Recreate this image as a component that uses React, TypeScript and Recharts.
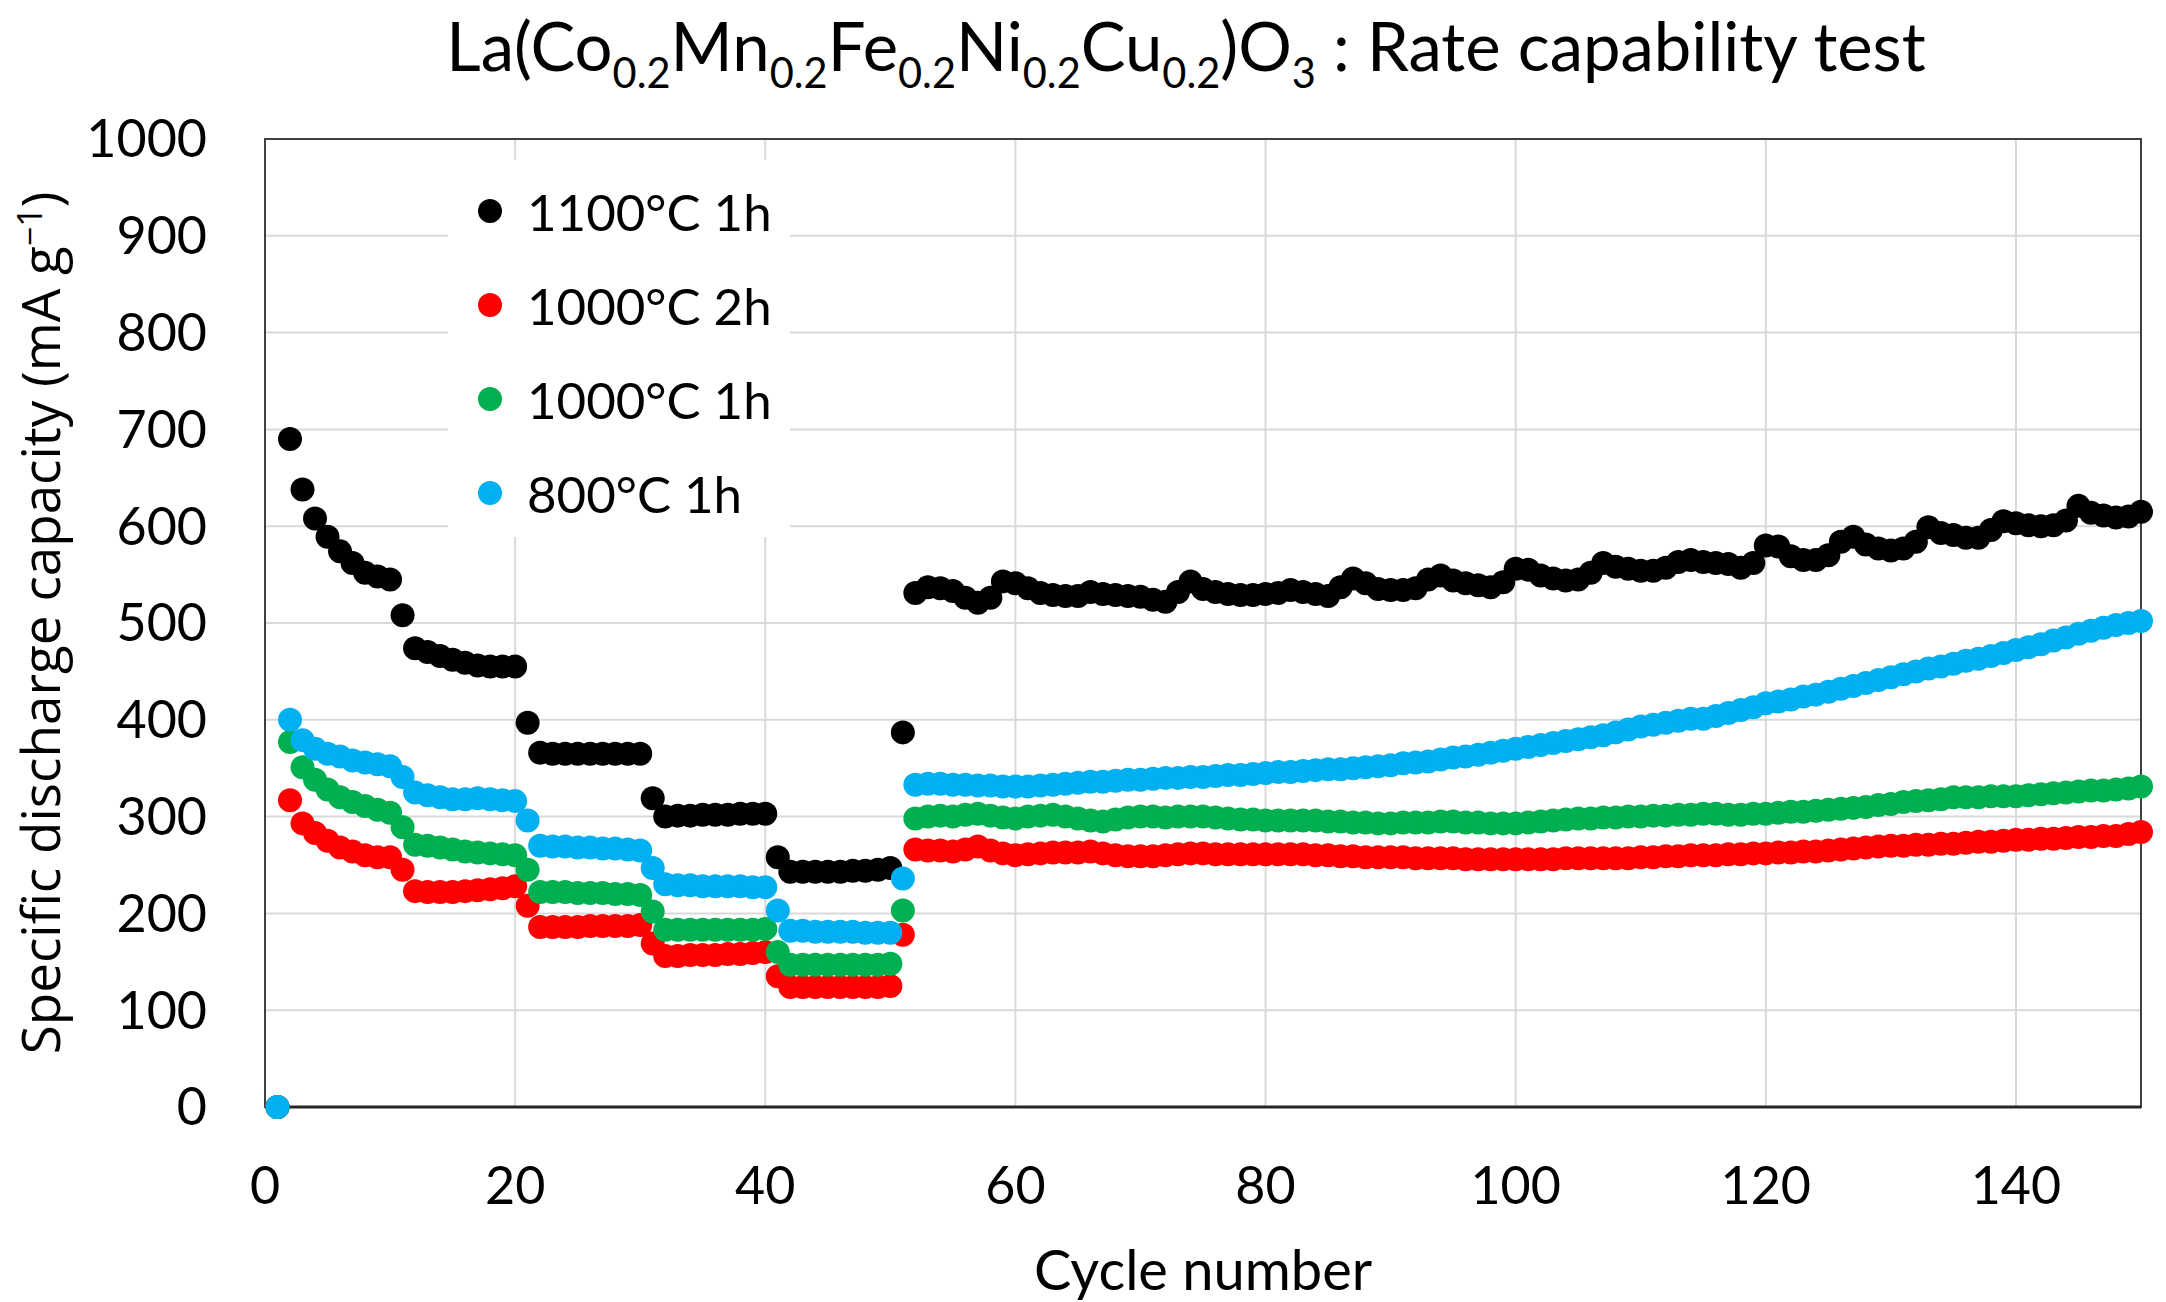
import React from 'react';
import { ScatterChart, Scatter, XAxis, YAxis, CartesianGrid, Legend, ReferenceArea } from 'recharts';

// Specific discharge capacity (mA g-1) per cycle, cycles 1..150
const cap1100C1h = [
  0, 690, 638, 608, 589, 574, 562, 552, 548, 545,
  508, 474, 470, 466, 462, 459, 456, 455, 455, 455,
  397, 366, 365, 365, 365, 365, 365, 365, 365, 365,
  319, 300, 301, 301, 302, 302, 302, 303, 303, 303,
  258, 243, 243, 243, 243, 243, 244, 244, 245, 247,
  387, 531, 537, 536, 533, 526, 521, 526, 543, 541,
  536, 531, 529, 528, 528, 532, 530, 529, 528, 527,
  524, 522, 532, 543, 535, 532, 530, 529, 529, 530,
  531, 534, 532, 530, 528, 537, 546, 541, 535, 534,
  534, 536, 545, 549, 544, 541, 539, 537, 542, 556,
  555, 549, 546, 544, 545, 552, 562, 558, 556, 554,
  554, 557, 563, 565, 563, 562, 561, 557, 562, 580,
  579, 569, 565, 565, 570, 584, 589, 581, 577, 575,
  577, 584, 599, 593, 591, 588, 588, 596, 605, 603,
  601, 600, 601, 606, 621, 614, 611, 609, 610, 615,
];

const cap1000C2h = [
  0, 317, 293, 283, 275, 268, 264, 260, 258, 258,
  245, 223, 222, 222, 222, 223, 224, 225, 226, 228,
  208, 186, 186, 186, 186, 187, 187, 187, 187, 188,
  169, 156, 156, 157, 157, 157, 158, 158, 159, 160,
  135, 124, 124, 124, 124, 124, 124, 124, 124, 125,
  178, 266, 265, 265, 264, 266, 269, 265, 262, 260,
  261, 262, 263, 263, 263, 264, 262, 260, 259, 259,
  259, 260, 261, 262, 262, 261, 261, 261, 261, 261,
  261, 261, 261, 260, 260, 259, 259, 258, 258, 258,
  258, 257, 257, 257, 257, 256, 256, 256, 256, 256,
  256, 256, 256, 257, 257, 257, 257, 257, 257, 258,
  258, 259, 259, 260, 260, 260, 261, 261, 262, 262,
  263, 263, 264, 264, 265, 266, 267, 268, 269, 270,
  270, 271, 271, 272, 272, 273, 274, 274, 275, 276,
  276, 277, 277, 278, 279, 279, 280, 280, 282, 284,
];

const cap1000C1h = [
  0, 377, 351, 338, 328, 320, 315, 311, 307, 304,
  289, 271, 270, 268, 266, 264, 263, 262, 261, 260,
  245, 222, 222, 222, 221, 221, 221, 220, 220, 219,
  202, 183, 183, 183, 183, 183, 183, 183, 183, 184,
  160, 147, 147, 147, 147, 147, 147, 147, 147, 148,
  203, 298, 300, 301, 300, 302, 303, 301, 299, 298,
  300, 301, 302, 300, 298, 296, 295, 297, 299, 300,
  300, 299, 300, 300, 300, 299, 298, 297, 297, 296,
  296, 296, 296, 296, 295, 295, 294, 294, 293, 293,
  294, 294, 294, 295, 295, 294, 294, 293, 293, 293,
  294, 295, 296, 297, 298, 298, 299, 299, 300, 300,
  301, 301, 302, 302, 303, 303, 302, 302, 303, 303,
  304, 305, 305, 306, 307, 308, 309, 310, 312, 313,
  315, 316, 317, 318, 320, 320, 320, 321, 321, 321,
  322, 323, 324, 325, 326, 327, 327, 328, 329, 331,
];

const cap800C1h = [
  0, 400, 379, 370, 365, 362, 358, 356, 354, 352,
  341, 325, 322, 320, 318, 318, 319, 318, 317, 316,
  296, 270, 269, 269, 268, 268, 267, 267, 266, 265,
  247, 230, 229, 229, 228, 228, 228, 228, 227, 227,
  203, 182, 182, 181, 181, 181, 181, 180, 180, 180,
  236, 333, 334, 334, 333, 333, 332, 332, 331, 331,
  331, 332, 333, 334, 335, 336, 336, 337, 338, 338,
  339, 340, 340, 341, 341, 342, 343, 343, 344, 345,
  346, 346, 347, 348, 349, 349, 350, 351, 352, 353,
  355, 356, 357, 359, 361, 362, 364, 366, 368, 370,
  372, 374, 376, 378, 380, 382, 384, 387, 390, 393,
  395, 397, 399, 401, 401, 404, 407, 410, 413, 417,
  419, 421, 424, 426, 429, 432, 435, 438, 441, 444,
  447, 450, 453, 455, 458, 461, 463, 466, 469, 472,
  475, 478, 482, 485, 489, 492, 495, 498, 500, 502,
];

const xTicks = [0, 20, 40, 60, 80, 100, 120, 140];
const yTicks = [0, 100, 200, 300, 400, 500, 600, 700, 800, 900, 1000];

const seriesList = [
  { name: '1100°C 1h', color: '#000000', values: cap1100C1h },
  { name: '1000°C 2h', color: '#ff0000', values: cap1000C2h },
  { name: '1000°C 1h', color: '#00b050', values: cap1000C1h },
  { name: '800°C 1h', color: '#00b0f0', values: cap800C1h },
];

const toPoints = (values: number[]) => values.map((v, i) => ({ cycle: i + 1, capacity: v }));

const tickFont = { fontFamily: 'Lato', fontSize: 52, fill: '#000' };

// legend keeps the series order (recharts sorts its payload)
const LegendBox = () => (
  <div style={{ background: '#fff', width: '100%', height: '100%', paddingTop: 4, boxSizing: 'border-box' }}>
    {seriesList.map((s) => (
      <div key={s.name} style={{ display: 'flex', alignItems: 'center', height: 94 }}>
        <span
          style={{
            display: 'inline-block',
            width: 24,
            height: 24,
            borderRadius: '50%',
            background: s.color,
            marginLeft: 30,
            marginRight: 25,
          }}
        />
        <span style={{ fontFamily: 'Lato', fontSize: 51, color: '#000', whiteSpace: 'nowrap' }}>{s.name}</span>
      </div>
    ))}
  </div>
);

const YTitle = ({ viewBox }: any) => {
  const x = viewBox.x - 105;
  const y = viewBox.y + viewBox.height / 2;
  return (
    <text
      x={x}
      y={y}
      transform={`rotate(-90, ${x}, ${y})`}
      textAnchor="middle"
      style={{ fontFamily: 'Open Sans', fontSize: 53, fill: '#000' }}
    >
      Specific discharge capacity (mA g
      <tspan dy={-18} fontSize={34}>−1</tspan>
      <tspan dy={18}>)</tspan>
    </text>
  );
};

const XTitle = ({ viewBox }: any) => (
  <text
    x={viewBox.x + viewBox.width / 2}
    y={viewBox.y + 183}
    textAnchor="middle"
    style={{ fontFamily: 'Lato', fontSize: 56, fill: '#000' }}
  >
    Cycle number
  </text>
);

const sub = { fontSize: '0.62em', verticalAlign: '-17px' } as React.CSSProperties;

export default function App() {
  return (
    <div style={{ position: 'absolute', left: 0, top: 0, width: 2166, height: 1302, background: '#fff' }}>
      <div
        style={{
          position: 'absolute',
          left: 1186,
          top: 12,
          transform: 'translateX(-50%)',
          whiteSpace: 'nowrap',
          fontFamily: 'Lato',
          fontSize: 67,
          lineHeight: '67px',
          color: '#000',
        }}
      >
        La(Co<span style={sub}>0.2</span>Mn<span style={sub}>0.2</span>Fe<span style={sub}>0.2</span>Ni
        <span style={sub}>0.2</span>Cu<span style={sub}>0.2</span>)O<span style={sub}>3</span> : Rate capability test
      </div>
      <ScatterChart width={2166} height={1302} margin={{ top: 139, right: 25, bottom: 100, left: 165 }}>
        <CartesianGrid stroke="#d9d9d9" strokeWidth={2} />
        <ReferenceArea x1={0} x2={150} y1={0} y2={1000} fill="none" stroke="#404040" strokeWidth={2} ifOverflow="visible" />
        <XAxis
          type="number"
          dataKey="cycle"
          domain={[0, 150]}
          ticks={xTicks}
          height={95}
          tickSize={0}
          tickMargin={60}
          tickLine={false}
          axisLine={{ stroke: '#262626', strokeWidth: 3 }}
          tick={tickFont}
          label={<XTitle />}
        />
        <YAxis
          type="number"
          dataKey="capacity"
          domain={[0, 1000]}
          ticks={yTicks}
          width={100}
          tickSize={0}
          tickMargin={58}
          tickLine={false}
          axisLine={{ stroke: '#404040', strokeWidth: 2 }}
          tick={tickFont}
          label={<YTitle />}
        />
        <Legend
          layout="horizontal"
          verticalAlign="middle"
          align="center"
          content={<LegendBox />}
          wrapperStyle={{ position: 'absolute', left: 448, top: 160, width: 342, height: 377 }}
        />
        {seriesList.map((s) => (
          <Scatter
            key={s.name}
            name={s.name}
            data={toPoints(s.values)}
            fill={s.color}
            isAnimationActive={false}
            shape={(p: any) => <circle cx={p.cx} cy={p.cy} r={12} fill={s.color} />}
          />
        ))}
      </ScatterChart>
    </div>
  );
}
